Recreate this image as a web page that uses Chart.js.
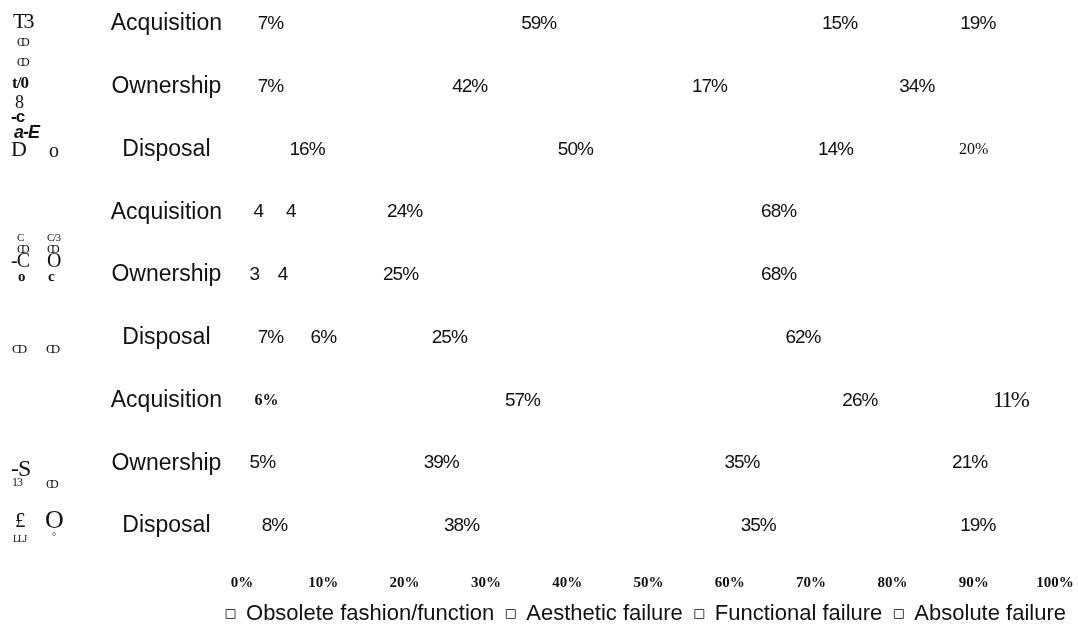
<!DOCTYPE html>
<html lang="en">
<head>
    <meta charset="UTF-8">
    <title>Failure modes by life stage</title>
    <script src="https://cdn.jsdelivr.net/npm/chart.js"></script>
    <style>
        html, body { margin: 0; padding: 0; background: #fff; }
        .wrap { width: 1078px; height: 632px; position: relative; }
    </style>
</head>
<body>
<div class="wrap">
    <canvas id="failChart"></canvas>
</div>
<script>
// rows (three groups of life stages)
const stages = ['Acquisition', 'Ownership', 'Disposal',
                'Acquisition', 'Ownership', 'Disposal',
                'Acquisition', 'Ownership', 'Disposal'];

const seriesNames = ['Obsolete fashion/function', 'Aesthetic failure', 'Functional failure', 'Absolute failure'];

// percentages
const obsolete   = [7, 7, 16, 4, 3, 7, 6, 5, 8];
const aesthetic  = [59, 42, 50, 4, 4, 6, 57, 39, 38];
const functional = [15, 17, 14, 24, 25, 25, 26, 35, 35];
const absolute   = [19, 34, 20, 68, 68, 62, 11, 21, 19];

// the text printed on each segment (a few have no % sign)
const obsoleteText   = ['7%', '7%', '16%', '4', '3', '7%', '6%', '5%', '8%'];
const aestheticText  = ['59%', '42%', '50%', '4', '4', '6%', '57%', '39%', '38%'];
const functionalText = ['15%', '17%', '14%', '24%', '25%', '25%', '26%', '35%', '35%'];
const absoluteText   = ['19%', '34%', '20%', '68%', '68%', '62%', '11%', '21%', '19%'];

const xTicks = [0, 10, 20, 30, 40, 50, 60, 70, 80, 90, 100];

// odd fonts a few labels came out in (dataset-row)
const oddFonts = {
    '3-2': { font: '16px "Liberation Serif"', spacing: '0px' },
    '0-6': { font: 'bold 16px "Liberation Serif"', spacing: '0px' },
    '3-6': { font: '23px "Liberation Serif"', spacing: '-2px' }
};

// scrambled vertical group labels at the far left
const sideText = [
    ['T3', 13, 22, '22px "Liberation Serif"', '-3px'],
    ['CD', 17, 43, '12px "Liberation Serif"', '-4px'],
    ['CD', 17, 63, '12px "Liberation Serif"', '-4px'],
    ['t/0', 12, 84, 'bold 17px "Liberation Serif"', '-1px'],
    ['8', 15, 103, '18px "Liberation Serif"', '0px'],
    ['-c', 11, 117, 'bold 17px "Liberation Sans"', '-1px'],
    ['a-E', 14, 133, 'bold italic 18px "Liberation Sans"', '-1px'],
    ['D', 11, 150, '22px "Liberation Serif"', '0px'],
    ['o', 49, 152, '20px "Liberation Serif"', '0px'],
    ['C', 17, 238, '11px "Liberation Serif"', '0px'],
    ['C/3', 47, 238, '11px "Liberation Serif"', '-1px'],
    ['CD', 17, 250, '12px "Liberation Serif"', '-4px'],
    ['CD', 47, 250, '12px "Liberation Serif"', '-4px'],
    ['-C', 11, 262, '20px "Liberation Serif"', '-1px'],
    ['O', 47, 262, '20px "Liberation Serif"', '0px'],
    ['o', 18, 277, 'bold 15px "Liberation Serif"', '0px'],
    ['c', 48, 277, 'bold 15px "Liberation Serif"', '0px'],
    ['CD', 12, 350, '13px "Liberation Serif"', '-3px'],
    ['CD', 46, 350, '13px "Liberation Serif"', '-4px'],
    ['-S', 11, 470, '24px "Liberation Serif"', '-1px'],
    ['13', 12, 483, '12px "Liberation Serif"', '-1px'],
    ['CD', 46, 485, '12px "Liberation Serif"', '-4px'],
    ['£', 15, 521, '21px "Liberation Serif"', '0px'],
    ['O', 45, 521, '26px "Liberation Serif"', '0px'],
    ['LLJ', 13, 539, '10px "Liberation Serif"', '-1px'],
    ['°', 52, 537, '10px "Liberation Serif"', '0px']
];

const segmentText = [obsoleteText, aestheticText, functionalText, absoluteText];

const segmentLabels = {
    id: 'segmentLabels',
    afterDatasetsDraw(chart) {
        const ctx = chart.ctx;
        ctx.save();
        ctx.fillStyle = '#111';
        ctx.textAlign = 'center';
        ctx.textBaseline = 'middle';
        chart.data.datasets.forEach((ds, di) => {
            chart.getDatasetMeta(di).data.forEach((bar, i) => {
                const p = bar.getCenterPoint();
                const odd = oddFonts[di + '-' + i];
                ctx.font = odd ? odd.font : '19px "Liberation Sans"';
                ctx.letterSpacing = odd ? odd.spacing : '-1px';
                ctx.fillText(segmentText[di][i], p.x, p.y);
            });
        });
        ctx.restore();
    }
};

const sideLabels = {
    id: 'sideLabels',
    afterDraw(chart) {
        const ctx = chart.ctx;
        ctx.save();
        ctx.fillStyle = '#111';
        ctx.textAlign = 'left';
        ctx.textBaseline = 'middle';
        sideText.forEach(t => {
            ctx.font = t[3];
            ctx.letterSpacing = t[4];
            ctx.fillText(t[0], t[1], t[2]);
        });
        ctx.restore();
    }
};

const colsData = [obsolete, aesthetic, functional, absolute];

new Chart(document.getElementById('failChart'), {
    type: 'bar',
    data: {
        labels: stages,
        datasets: seriesNames.map((name, k) => ({
            label: name,
            data: colsData[k],
            backgroundColor: 'rgba(255,255,255,0)',
            borderWidth: 0,
            barPercentage: 0.6,
            categoryPercentage: 1
        }))
    },
    options: {
        indexAxis: 'y',
        responsive: true,
        maintainAspectRatio: false,
        animation: false,
        events: [],
        layout: { padding: { left: 108, right: 0, top: 24, bottom: -3 } },
        scales: {
            x: {
                stacked: true,
                min: 0,
                max: 100,
                afterBuildTicks(scale) {
                    scale.ticks = xTicks.map(v => ({ value: v }));
                },
                afterFit(scale) {
                    scale.height = 65;
                    scale.paddingRight = 23;
                },
                // invisible tick marks used only as a gap above the labels
                grid: { display: false, drawTicks: true, tickLength: 48 },
                border: { display: false },
                ticks: {
                    padding: 0,
                    color: '#111',
                    maxRotation: 0,
                    font: { family: '"Liberation Serif"', size: 15, weight: 'bold' },
                    callback: v => v + '%'
                }
            },
            y: {
                stacked: true,
                offset: false,
                afterFit(scale) { scale.width = 134; },
                grid: { display: false, drawTicks: true, tickLength: 20 },
                border: { display: false },
                ticks: {
                    crossAlign: 'center',
                    padding: 0,
                    color: '#111',
                    font: { family: '"Liberation Sans"', size: 23 }
                }
            }
        },
        plugins: {
            tooltip: { enabled: false },
            legend: {
                position: 'bottom',
                align: 'end',
                labels: {
                    color: '#111',
                    boxWidth: 9,
                    boxHeight: 9,
                    padding: 12,
                    font: { family: '"Liberation Sans"', size: 22 },
                    generateLabels(chart) {
                        const items = Chart.defaults.plugins.legend.labels.generateLabels(chart);
                        items.forEach(it => {
                            it.fillStyle = '#fff';
                            it.strokeStyle = '#444';
                            it.lineWidth = 1;
                        });
                        return items;
                    }
                }
            }
        }
    },
    plugins: [segmentLabels, sideLabels]
});
</script>
</body>
</html>
